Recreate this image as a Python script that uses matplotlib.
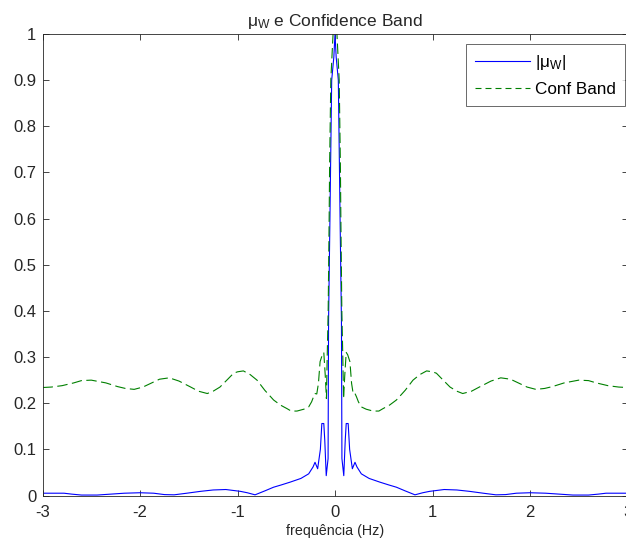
import numpy as np
import matplotlib
matplotlib.use("Agg")
import matplotlib.pyplot as plt
from matplotlib.lines import Line2D

plt.rcParams['font.family'] = ['Liberation Sans', 'DejaVu Sans']
plt.rcParams['mathtext.fontset'] = 'custom'
plt.rcParams['mathtext.rm'] = 'Liberation Sans'
plt.rcParams['mathtext.it'] = 'Liberation Sans'
plt.rcParams['lines.scale_dashes'] = False

# Half-spectrum values (x >= 0); the spectrum is symmetric about 0 Hz
freq_mu_half = [0, 0.012, 0.034, 0.045, 0.052, 0.066, 0.071, 0.09, 0.105, 0.115,
                0.135, 0.15, 0.178, 0.205, 0.225, 0.27, 0.35, 0.46, 0.55, 0.63,
                0.72, 0.82, 0.9, 0.97, 1.12, 1.25, 1.38, 1.52, 1.65, 1.75,
                1.86, 2.0, 2.16, 2.3, 2.44, 2.6, 2.7, 2.78, 2.9, 3.0]
mu_half = [1.0, 0.95, 0.9, 0.72, 0.6, 0.38, 0.08, 0.043, 0.12, 0.156,
           0.156, 0.10, 0.058, 0.072, 0.062, 0.047, 0.037, 0.029, 0.023, 0.018,
           0.01, 0.0015, 0.006, 0.009, 0.013, 0.012, 0.009, 0.005, 0.0015, 0.002,
           0.005, 0.006, 0.005, 0.003, 0.001, 0.001, 0.003, 0.005, 0.005, 0.005]

freq_band_half = [0, 0.02, 0.043, 0.055, 0.06, 0.07, 0.08, 0.088, 0.1, 0.115,
                  0.13, 0.153, 0.17, 0.187, 0.205, 0.22, 0.24, 0.27, 0.32, 0.39,
                  0.45, 0.49, 0.56, 0.63, 0.72, 0.80, 0.87, 0.94, 1.0, 1.04,
                  1.1, 1.18, 1.25, 1.31, 1.4, 1.48, 1.6, 1.70, 1.8, 1.89,
                  1.97, 2.06, 2.15, 2.23, 2.35, 2.5, 2.6, 2.68, 2.8, 2.91, 3.0]
band_half = [1.08, 1.0, 0.9, 0.72, 0.6, 0.4, 0.3, 0.21, 0.26, 0.31,
             0.305, 0.29, 0.243, 0.22, 0.221, 0.214, 0.203, 0.192, 0.187, 0.183,
             0.183, 0.188, 0.196, 0.207, 0.228, 0.25, 0.262, 0.27, 0.268, 0.265,
             0.252, 0.235, 0.226, 0.221, 0.226, 0.235, 0.248, 0.255, 0.252, 0.243,
             0.235, 0.23, 0.232, 0.236, 0.244, 0.25, 0.249, 0.244, 0.238, 0.235, 0.234]

xticks = [-3, -2, -1, 0, 1, 2, 3]
yticks = [0, 0.1, 0.2, 0.3, 0.4, 0.5, 0.6, 0.7, 0.8, 0.9, 1]
ytick_labels = ['0', '0.1', '0.2', '0.3', '0.4', '0.5', '0.6', '0.7', '0.8', '0.9', '1']
series_labels = [r'|$\mathregular{\mu_W}$|', 'Conf Band']

def mirror(xh, yh):
    xh = np.asarray(xh, float)
    yh = np.asarray(yh, float)
    x = np.concatenate([-xh[::-1], xh[1:]])
    y = np.concatenate([yh[::-1], yh[1:]])
    return x, y

f_mu, mu = mirror(freq_mu_half, mu_half)
f_band, band = mirror(freq_band_half, band_half)

blue = (0, 0, 1)
green = (0, 0.5, 0)

fig = plt.figure(figsize=(6.26, 5.45), dpi=100)
ax = fig.add_axes([0.0679, 0.0908, 0.9345, 0.8468])

ax.plot(f_mu, mu, color=blue, lw=0.8)
ax.plot(f_band, band, color=green, lw=0.8, dashes=(7.5, 3.2))

ax.set_xlim(-3, 3)
ax.set_ylim(0, 1)
ax.set_xticks(xticks)
ax.set_xticklabels([str(t) for t in xticks])
ax.set_yticks(yticks)
ax.set_yticklabels(ytick_labels)
ax.tick_params(direction='in', top=True, right=True, length=4, width=0.6,
               labelsize=12, colors='#262626')
ax.tick_params(axis='x', pad=6.5)
ax.tick_params(axis='y', pad=4.5)
for s in ax.spines.values():
    s.set_linewidth(0.6)
    s.set_color('#262626')

ax.set_title(r'$\mathregular{\mu_W}$ e Confidence Band', fontsize=12.5, color='#262626', pad=6)
ax.set_xlabel('frequência (Hz)', fontsize=10.3, color='#262626', labelpad=3)

handles = [Line2D([], [], color=blue, lw=0.8),
           Line2D([], [], color=green, lw=0.8, dashes=(4.3, 2.9))]
leg = ax.legend(handles, series_labels, loc='upper right',
                bbox_to_anchor=(0.9957, 0.9783), fontsize=12.3,
                frameon=True, fancybox=False, edgecolor='#262626', handlelength=3.2,
                borderpad=0.55, labelspacing=0.55, handletextpad=0.3, borderaxespad=0)
leg.get_frame().set_linewidth(0.6)

fig.savefig('out.png', dpi=100, facecolor='white')
